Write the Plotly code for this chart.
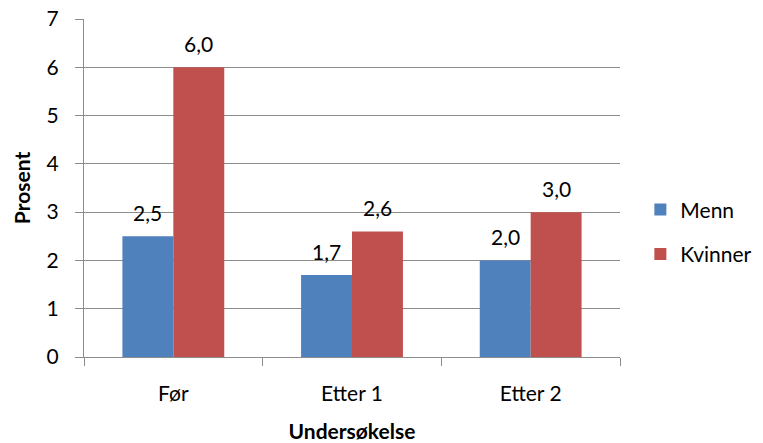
import plotly.graph_objects as go

categories = ["Før", "Etter 1", "Etter 2"]
menn = [2.5, 1.7, 2.0]
kvinner = [6.0, 2.6, 3.0]
y_ticks = [0, 1, 2, 3, 4, 5, 6, 7]

FONT = "Lato, 'Open Sans', sans-serif"
GRID = "#8c8c8c"
FS = 21

fig = go.Figure()
fig.add_trace(go.Bar(
    x=categories, y=menn, name="Menn", marker_color="#4F81BD",
    marker_line_width=0, legendgroup="m",
))
fig.add_trace(go.Bar(
    x=categories, y=kvinner, name="Kvinner", marker_color="#C0504D",
    marker_line_width=0, legendgroup="k",
))

# value labels above each bar (decimal comma)
for values, shift in ((menn, -25.5), (kvinner, 25.5)):
    for cat, v in zip(categories, values):
        fig.add_annotation(
            x=cat, y=v, xref="x", yref="y", text=f"{v:.1f}".replace(".", ","),
            showarrow=False, xshift=shift, yanchor="bottom", yshift=9,
            font=dict(size=FS, family=FONT, color="black"),
        )

fig.update_layout(
    width=763, height=443,
    margin=dict(l=84, r=143, t=19, b=86, autoexpand=False),
    paper_bgcolor="white", plot_bgcolor="white",
    separators=",.",
    barmode="group", bargap=0.43, bargroupgap=0,
    font=dict(family=FONT, size=FS, color="black"),
    showlegend=True,
    legend=dict(
        x=1.038, xanchor="left", y=0.37, yanchor="middle",
        font=dict(size=FS, family=FONT), tracegroupgap=14,
        bgcolor="rgba(0,0,0,0)",
    ),
)

fig.update_xaxes(
    showline=True, linecolor=GRID, linewidth=1,
    ticks="outside", ticklen=8, tickcolor=GRID, tickson="boundaries",
    tickfont=dict(size=FS, family=FONT), ticklabelstandoff=18,
    title=dict(text="<b>Undersøkelse</b>", font=dict(size=FS, family=FONT), standoff=22),
    showgrid=False,
)
fig.update_yaxes(
    range=[0, 7], tickvals=y_ticks,
    showline=True, linecolor=GRID, linewidth=1,
    showgrid=True, gridcolor=GRID, gridwidth=1,
    ticks="outside", ticklen=8, tickcolor=GRID,
    tickfont=dict(size=FS, family=FONT), ticklabelstandoff=12,
    title=dict(text="<b>Prosent</b>", font=dict(size=FS, family=FONT), standoff=10),
    zeroline=False,
)

fig.write_html("out.html")
